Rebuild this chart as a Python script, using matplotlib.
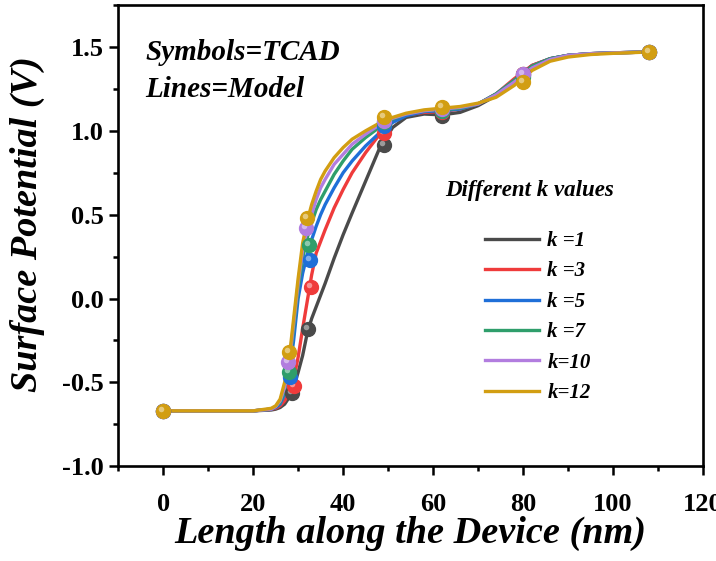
import matplotlib
matplotlib.use('Agg')
import matplotlib.pyplot as plt
from matplotlib import transforms
from matplotlib.ticker import MultipleLocator

plt.rcParams['font.family'] = ['Liberation Serif', 'DejaVu Serif']
plt.rcParams['font.weight'] = 'bold'
plt.rcParams['axes.unicode_minus'] = False

# model curves sampled along the channel (nm)
x_model = [0, 20, 24, 25, 26, 27, 28, 29, 30, 31, 32, 33, 34, 35, 36, 38, 40, 42, 45, 48,
           51, 54, 58, 62, 66, 70, 74, 78, 82, 86, 90, 95, 100, 108]

model_k1 = [-0.67, -0.67, -0.665, -0.66, -0.65, -0.63, -0.59, -0.53, -0.44, -0.34, -0.21, -0.12,
            -0.05, 0.02, 0.09, 0.24, 0.38, 0.51, 0.70, 0.89, 1.02, 1.08, 1.10, 1.095, 1.11,
            1.15, 1.21, 1.30, 1.39, 1.43, 1.45, 1.46, 1.465, 1.47]
model_k3 = [-0.67, -0.67, -0.66, -0.655, -0.64, -0.61, -0.56, -0.48, -0.35, -0.18, -0.02, 0.14,
            0.27, 0.34, 0.41, 0.54, 0.65, 0.75, 0.87, 0.975, 1.055, 1.095, 1.11, 1.115, 1.13,
            1.16, 1.22, 1.31, 1.39, 1.43, 1.45, 1.46, 1.465, 1.47]
model_k5 = [-0.67, -0.67, -0.66, -0.65, -0.63, -0.57, -0.45, -0.25, 0.0, 0.15, 0.26, 0.35,
            0.43, 0.50, 0.56, 0.66, 0.75, 0.82, 0.91, 0.985, 1.05, 1.09, 1.115, 1.12, 1.13,
            1.16, 1.22, 1.30, 1.385, 1.43, 1.45, 1.46, 1.465, 1.47]
model_k7 = [-0.67, -0.67, -0.66, -0.645, -0.62, -0.55, -0.41, -0.18, 0.06, 0.24, 0.36, 0.45,
            0.53, 0.59, 0.64, 0.74, 0.82, 0.89, 0.96, 1.02, 1.07, 1.10, 1.12, 1.125, 1.135,
            1.16, 1.22, 1.30, 1.385, 1.43, 1.45, 1.46, 1.465, 1.47]
model_k10 = [-0.67, -0.67, -0.66, -0.645, -0.61, -0.53, -0.39, -0.15, 0.09, 0.29, 0.41, 0.50,
             0.59, 0.66, 0.71, 0.80, 0.86, 0.92, 0.98, 1.035, 1.075, 1.10, 1.12, 1.13, 1.14,
             1.16, 1.215, 1.29, 1.375, 1.425, 1.45, 1.46, 1.465, 1.47]
model_k12 = [-0.67, -0.67, -0.655, -0.64, -0.60, -0.50, -0.36, -0.12, 0.12, 0.33, 0.46, 0.56,
             0.64, 0.71, 0.76, 0.84, 0.90, 0.95, 1.00, 1.045, 1.08, 1.105, 1.125, 1.135, 1.145,
             1.165, 1.20, 1.27, 1.36, 1.415, 1.44, 1.455, 1.462, 1.47]

# TCAD points
tcad_x_k1 = [0, 28.6, 32.3, 49, 62, 80, 108]
tcad_y_k1 = [-0.67, -0.565, -0.18, 0.915, 1.09, 1.34, 1.47]
tcad_x_k3 = [0, 29.0, 32.8, 49, 62, 80, 108]
tcad_y_k3 = [-0.67, -0.52, 0.07, 0.985, 1.11, 1.34, 1.47]
tcad_x_k5 = [0, 28.2, 32.6, 49, 62, 80, 108]
tcad_y_k5 = [-0.67, -0.47, 0.23, 1.03, 1.12, 1.33, 1.47]
tcad_x_k7 = [0, 27.9, 32.4, 49, 62, 80, 108]
tcad_y_k7 = [-0.67, -0.44, 0.32, 1.05, 1.12, 1.32, 1.47]
tcad_x_k10 = [0, 27.8, 31.8, 49, 62, 80, 108]
tcad_y_k10 = [-0.67, -0.38, 0.42, 1.06, 1.13, 1.34, 1.47]
tcad_x_k12 = [0, 27.9, 32.0, 49, 62, 80, 108]
tcad_y_k12 = [-0.67, -0.32, 0.48, 1.08, 1.14, 1.29, 1.47]

labels = ['k =1', 'k =3', 'k =5', 'k =7', 'k=10', 'k=12']
colors = ['#4a4a4a', '#ef3b3b', '#1f6fd8', '#2f9e6b', '#b27ddf', '#d29e12']
models = [model_k1, model_k3, model_k5, model_k7, model_k10, model_k12]
tcad_xs = [tcad_x_k1, tcad_x_k3, tcad_x_k5, tcad_x_k7, tcad_x_k10, tcad_x_k12]
tcad_ys = [tcad_y_k1, tcad_y_k3, tcad_y_k5, tcad_y_k7, tcad_y_k10, tcad_y_k12]

fig = plt.figure(figsize=(7.16, 5.61), dpi=100)
ax = fig.add_axes([0.165, 0.169, 0.817, 0.822])

shine = transforms.ScaledTranslation(-1.5 / 72, 1.5 / 72, fig.dpi_scale_trans)
lines = []
for xs, ys, ym, c, lab in zip(tcad_xs, tcad_ys, models, colors, labels):
    ax.plot(xs, ys, 'o', ms=10, color=c, mec=c, zorder=3)
    ax.plot(xs, ys, 'o', ms=4, color='white', alpha=0.45, mec='none', zorder=3,
            transform=ax.transData + shine)
    ln, = ax.plot(x_model, ym, '-', lw=2.4, color=c, label=lab, zorder=2)
    lines.append(ln)

ax.set_xlim(-10, 120)
ax.set_ylim(-1.0, 1.75)
ax.xaxis.set_major_locator(MultipleLocator(20))
ax.xaxis.set_minor_locator(MultipleLocator(10))
ax.yaxis.set_major_locator(MultipleLocator(0.5))
ax.yaxis.set_minor_locator(MultipleLocator(0.25))
ax.tick_params(which='both', direction='out', width=1.8, top=False, right=False,
               labelsize=19)
ax.tick_params(which='major', length=6.5)
ax.tick_params(which='minor', length=3.6)
ax.tick_params(axis='x', which='major', pad=13)
ax.tick_params(axis='y', which='major', pad=4)
for s in ax.spines.values():
    s.set_linewidth(1.9)

ax.set_xlabel('Length along the Device (nm)', fontsize=27.5, style='italic',
              fontweight='bold', labelpad=0)
ax.set_ylabel('Surface Potential (V)', fontsize=27.5, style='italic',
              fontweight='bold')
ax.yaxis.set_label_coords(-0.125, 0.525)

ax.text(0.046, 0.88, 'Symbols=TCAD', transform=ax.transAxes, fontsize=21,
        style='italic', fontweight='bold', va='baseline')
ax.text(0.046, 0.80, 'Lines=Model', transform=ax.transAxes, fontsize=21,
        style='italic', fontweight='bold', va='baseline')
ax.text(0.704, 0.597, 'Different k values', transform=ax.transAxes, fontsize=16.5,
        style='italic', fontweight='bold', ha='center', va='center')

leg = ax.legend(handles=lines, loc='upper left', bbox_to_anchor=(0.627, 0.51),
                frameon=False, borderpad=0, borderaxespad=0, handlelength=2.6,
                handletextpad=0.4, labelspacing=0.5,
                prop={'size': 15, 'style': 'italic', 'weight': 'bold'})

fig.savefig('out.png', dpi=100)
